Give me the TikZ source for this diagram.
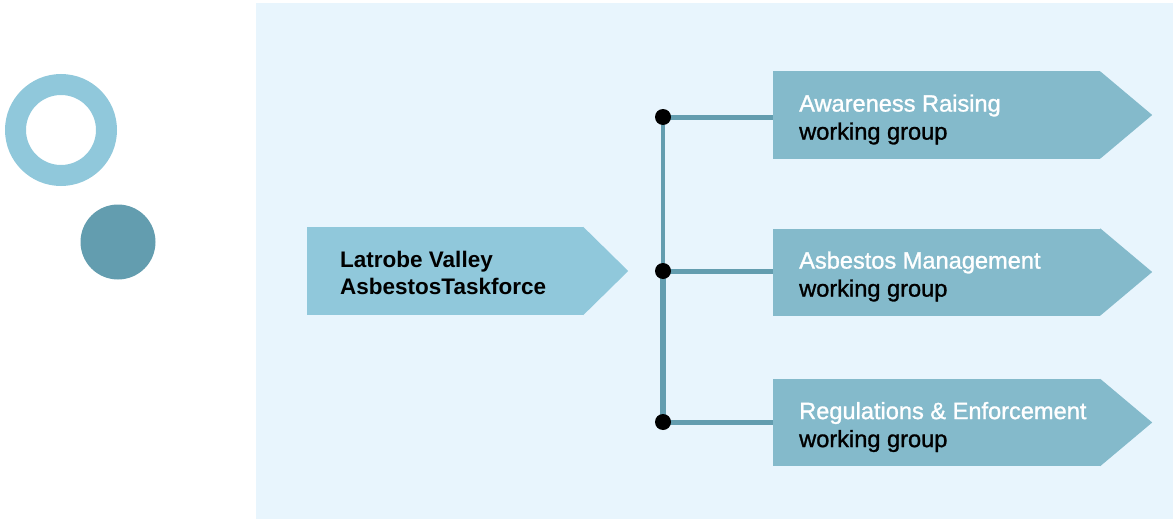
\documentclass[tikz,border=0pt]{standalone}
\usepackage{fontspec}
\setmainfont{Liberation Sans}
\newfontfamily\medfont[FakeBold=1.2]{Liberation Sans}
\usetikzlibrary{calc}
\definecolor{panelbg}{HTML}{E8F5FD}
\definecolor{lightteal}{HTML}{90C8DB}
\definecolor{boxteal}{HTML}{84BACB}
\definecolor{darkteal}{HTML}{639DAF}
\tikzset{
  taskbox/.style={fill=lightteal, draw=none, minimum width=276pt, minimum height=88pt, inner sep=0pt},
  groupbox/.style={fill=boxteal, draw=none, minimum width=327pt, minimum height=87pt, inner sep=0pt},
  tasktext/.style={anchor=west, align=left, inner sep=0pt, font=\fontsize{22.5}{27.5}\selectfont\bfseries, text=black},
  grouptext/.style={anchor=west, align=left, inner sep=0pt, font=\fontsize{23.6}{28}\selectfont\medfont},
  link/.style={draw=darkteal, line width=5pt},
  junction/.style={circle, fill=black, minimum size=16pt, inner sep=0pt}
}
\begin{document}
\begin{tikzpicture}[x=1pt, y=-1pt]
\useasboundingbox (0,0) rectangle (1173,519);
% background panel
\fill[panelbg] (256,3) rectangle (1173,519);
% decorative circles
\fill[lightteal, even odd rule] (61,130) circle (56) (61,130) circle (35);
\fill[darkteal] (118,242) circle (37.5);
% taskforce box with pointer
\node[taskbox] (task) at (445,271) {};
\fill[lightteal] (task.north east) -- ($(task.east)+(45,0)$) -- (task.south east) -- cycle;
\node[tasktext] (tasklbl) at (340,273) {Latrobe Valley\\AsbestosTaskforce};
% working group boxes
\foreach \n/\y/\a in {aw/115/Awareness Raising, am/272/Asbestos Management, re/422.5/Regulations \& Enforcement}{
  \node[groupbox] (\n) at (936.5,\y) {};
  \fill[boxteal] (\n.north east) -- ($(\n.east)+(52,0)$) -- (\n.south east) -- cycle;
  \node[grouptext] (\n lbl) at (799,\y+4.5) {\textcolor{white}{\a}\\\textcolor{black}{working group}};
}
% junction points
\coordinate (j1) at (663,117);
\coordinate (j2) at (663,271);
\coordinate (j3) at (663,422);
% connectors
\draw[link, line width=4pt] (j1) -- (j2);
\draw[link, line width=6.5pt] (j2) -- (j3);
\draw[link] (j1) -- (j1 -| aw.west);
\draw[link] (j2) -- (j2 -| am.west);
\draw[link] (j3) -- (j3 -| re.west);
\node[junction] (d1) at (j1) {};
\node[junction] (d2) at (j2) {};
\node[junction] (d3) at (j3) {};
\end{tikzpicture}
\end{document}
